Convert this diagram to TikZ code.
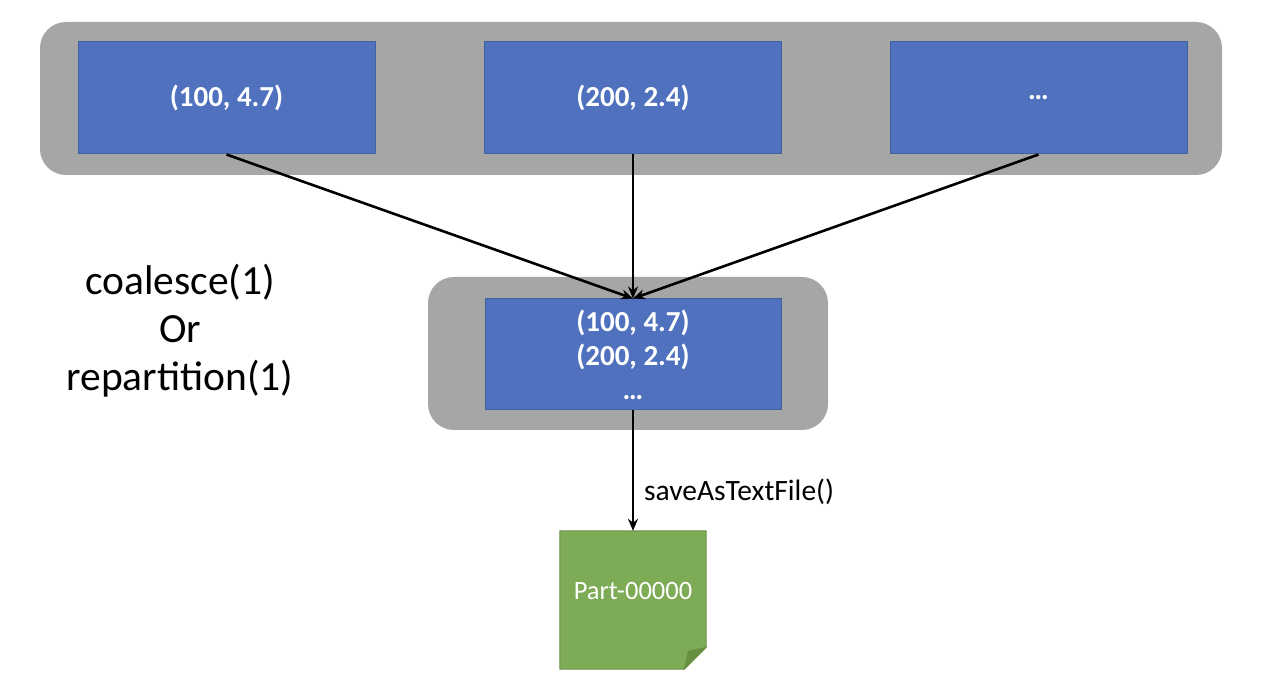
\documentclass[tikz,border=0pt]{standalone}
\usepackage{fontspec}
\setmainfont{Carlito}
\usetikzlibrary{arrows.meta,calc}
\definecolor{boxblue}{HTML}{4F71BE}
\definecolor{boxedge}{HTML}{41619F}
\definecolor{panel}{HTML}{A6A6A6}
\definecolor{docgreen}{HTML}{7EAB55}
\definecolor{docedge}{HTML}{6B9346}
\definecolor{docfold}{HTML}{66903F}
\tikzset{
  panelbox/.style={fill=panel,draw=none,rounded corners=26pt,inner sep=0pt},
  bluebox/.style={fill=boxblue,draw=boxedge,line width=1pt,inner sep=0pt,text=white,
    font=\fontsize{29}{34}\selectfont\bfseries,align=center},
  conn/.style={line width=2.6pt,-{Stealth[length=12pt,width=10pt]}},
  plain/.style={inner sep=0pt,align=center}
}
\begin{document}
\begin{tikzpicture}[x=1pt,y=-1pt]
\useasboundingbox (0,0) rectangle (1272,700);
\node[panelbox,minimum width=1182pt,minimum height=153pt] (toppanel) at (631,98.5) {};
\node[panelbox,minimum width=400pt,minimum height=153pt] (midpanel) at (628,353.5) {};
\node[bluebox,minimum width=297pt,minimum height=112pt] (b1) at (226.5,98) {(100, 4.7)};
\node[bluebox,minimum width=297pt,minimum height=112pt] (b2) at (633,98) {(200, 2.4)};
\node[bluebox,minimum width=297pt,minimum height=112pt] (b3) at (1038.5,98) {…};
\node[bluebox,minimum width=296pt,minimum height=111pt] (mid) at (633,354.5) {(100, 4.7)\\(200, 2.4)\\…};
\node[minimum width=146pt,minimum height=138pt,inner sep=0pt] (doc) at (633,600) {};
\fill[docgreen,draw=docedge,line width=1pt]
  (doc.north west) -- (doc.north east) -- ($(doc.south east)+(0,-22)$) -- ($(doc.south east)+(-22,0)$) -- (doc.south west) -- cycle;
\fill[docfold,draw=docedge,line width=0.8pt]
  ($(doc.south east)+(0,-22)$) -- ($(doc.south east)+(-18,-18)$) -- ($(doc.south east)+(-22,0)$) -- cycle;
\node[plain,text=white,font=\fontsize{26.5}{30}\selectfont] (doclabel) at (633,591) {Part-00000};
\draw[conn] (b1.south) -- (mid.north);
\draw[conn] (b2.south) -- (mid.north);
\draw[conn] (b3.south) -- (mid.north);
\draw[conn] (mid.south) -- (doc.north);
\node[plain,anchor=west,font=\fontsize{29.5}{32}\selectfont] (savelabel) at (644,492) {saveAsTextFile()};
\node[plain,font=\fontsize{41.5}{48}\selectfont] (lefttext) at (180,331) {coalesce(1)\\Or\\repartition(1)};
\end{tikzpicture}
\end{document}
